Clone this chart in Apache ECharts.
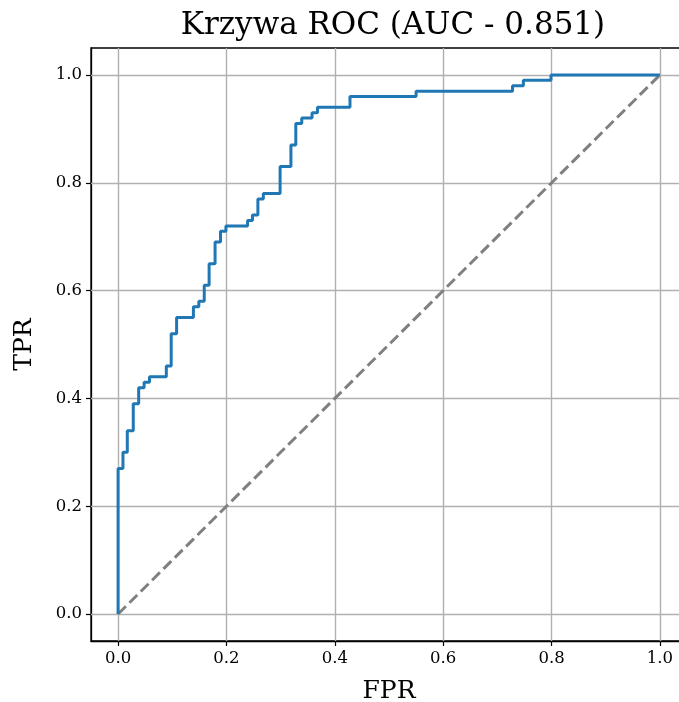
<!DOCTYPE html>
<html>
<head>
<meta charset="utf-8">
<script src="https://cdn.jsdelivr.net/npm/echarts@6/dist/echarts.min.js"></script>
<style>html,body{margin:0;padding:0;background:#fff;}#c{width:679px;height:702px;}</style>
</head>
<body>
<div id="c"></div>
<script>
const fpr = [0, 0, 0.009, 0.017, 0.028, 0.038, 0.048, 0.058, 0.089, 0.098, 0.108, 0.139, 0.149, 0.159, 0.168, 0.179, 0.189, 0.199, 0.239, 0.248, 0.258, 0.268, 0.299, 0.319, 0.328, 0.339, 0.358, 0.368, 0.428, 0.55, 0.728, 0.748, 0.799, 1.0];
const tpr = [0, 0.27, 0.30, 0.34, 0.39, 0.42, 0.43, 0.44, 0.46, 0.52, 0.55, 0.57, 0.58, 0.61, 0.65, 0.69, 0.71, 0.72, 0.73, 0.74, 0.77, 0.78, 0.83, 0.87, 0.91, 0.92, 0.93, 0.94, 0.96, 0.97, 0.98, 0.99, 1.0, 1.0];
const diagX = [0, 1];
const diagY = [0, 1];
const xTicks = [0, 0.2, 0.4, 0.6, 0.8, 1.0];
const yTicks = [0, 0.2, 0.4, 0.6, 0.8, 1.0];
const titleText = 'Krzywa ROC (AUC - 0.851)';

const font = 'DejaVu Serif';
const chart = echarts.init(document.getElementById('c'), null, {renderer: 'canvas'});
const gridColor = '#b0b0b0';
const gridLines = [];
xTicks.forEach(v => gridLines.push({xAxis: v}));
yTicks.forEach(v => gridLines.push({yAxis: v}));

chart.setOption({
  animation: false,
  backgroundColor: '#fff',
  title: {
    text: titleText, left: 388, top: 5, textAlign: 'center',
    textStyle: {fontFamily: font, fontSize: 31, fontWeight: 'normal', color: '#000'}
  },
  grid: {left: 91, right: -8, top: 48, bottom: 61, show: true, borderColor: '#000', borderWidth: 1.3, containLabel: false, outerBoundsMode: 'none'},
  xAxis: {
    type: 'value', min: -0.05, max: 1.05,
    name: 'FPR', nameLocation: 'middle', nameGap: 38,
    nameTextStyle: {fontFamily: font, fontSize: 25, color: '#000'},
    axisLine: {show: true, onZero: false, lineStyle: {color: '#000', width: 1.3}},
    axisTick: {show: true, inside: false, length: 5, customValues: xTicks, lineStyle: {color: '#000', width: 1.2}},
    axisLabel: {customValues: xTicks, fontFamily: font, fontSize: 16.5, color: '#000', margin: 9, formatter: v => v.toFixed(1)},
    splitLine: {show: false}
  },
  yAxis: {
    type: 'value', min: -0.05, max: 1.05,
    name: 'TPR', nameLocation: 'middle', nameGap: 54, nameRotate: 90,
    nameTextStyle: {fontFamily: font, fontSize: 25, color: '#000'},
    axisLine: {show: true, onZero: false, lineStyle: {color: '#000', width: 1.3}},
    axisTick: {show: true, inside: false, length: 5, customValues: yTicks, lineStyle: {color: '#000', width: 1.2}},
    axisLabel: {customValues: yTicks, fontFamily: font, fontSize: 16.5, color: '#000', margin: 9, formatter: v => v.toFixed(1)},
    splitLine: {show: false}
  },
  series: [
    {
      type: 'line', data: diagX.map((x, i) => [x, diagY[i]]), symbol: 'none', silent: true,
      lineStyle: {color: '#808080', width: 3, type: [11, 5]}, z: 3,
      markLine: {silent: true, symbol: 'none', label: {show: false}, lineStyle: {color: gridColor, width: 1.4, type: 'solid'}, data: gridLines, z: 1}
    },
    {
      type: 'line', data: fpr.map((x, i) => [x, tpr[i]]), symbol: 'none', step: 'end', silent: true,
      lineStyle: {color: '#1f77b4', width: 3}, z: 4
    }
  ]
});
</script>
</body>
</html>
